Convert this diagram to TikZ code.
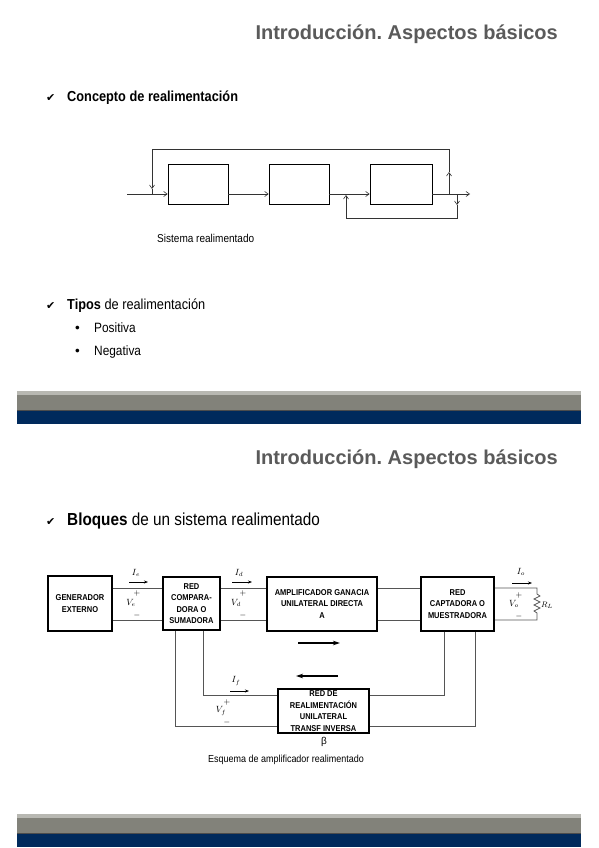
\documentclass[tikz,border=0pt]{standalone}
\usepackage{fontspec}
\setmainfont{Liberation Sans}
\newfontfamily\symfont{DejaVu Sans}
\usepackage{graphicx}
\usepackage{xcolor}
\usetikzlibrary{arrows.meta}
\frenchspacing

\definecolor{titlegray}{HTML}{5A5A5A}
\definecolor{bargray}{HTML}{82827A}
\definecolor{barlight}{HTML}{B8B8B2}
\definecolor{barnavy}{HTML}{002A5C}
\definecolor{wiregray}{HTML}{555555}

\newcommand{\nw}[1]{\scalebox{0.88}[1]{#1}}
\newcommand{\ttl}{\fontsize{20}{24}\selectfont\bfseries}

\tikzset{
  ttlnode/.style={anchor=base east, inner sep=0pt, font=\ttl, text=titlegray},
  chk/.style={anchor=base west, inner sep=0pt, font=\symfont\fontsize{11}{11}\selectfont},
  line14/.style={anchor=base west, inner sep=0pt, font=\fontsize{14.5}{17}\selectfont},
  blkA/.style={draw, line width=0.7pt, inner sep=0pt, minimum height=40pt},
  sigA/.style={line width=0.6pt, black!80, -{Straight Barb[length=3.5pt,width=5pt]}},
  wireA/.style={line width=0.6pt, black!80},
  blk/.style={draw, line width=1.5pt, inner sep=0pt, align=center,
    font=\fontsize{8.5}{11.5}\selectfont\bfseries},
  wire/.style={line width=0.7pt, wiregray},
  cur/.style={line width=0.6pt, -{Stealth[length=4pt,width=3pt]}},
  dirarrow/.style={line width=1.3pt, -{Stealth[length=7pt,width=4.5pt]}},
  lab/.style={inner sep=0pt, font=\fontsize{9}{9}\selectfont},
  pm/.style={inner sep=0pt, font=\fontsize{8}{8}\selectfont},
}

\begin{document}
\begin{tikzpicture}[x=1pt,y=-1pt]
  \useasboundingbox (0,0) rectangle (599,848);
  \fill[white] (0,0) rectangle (599,848);

  % ---- slide 1 ----
  \node[ttlnode] (ttlA) at (558,40) {Introducción. Aspectos básicos};
  \node[chk] (chkA) at (46,102) {✔};
  \node[line14] (concepto) at (67,102) {\nw{\bfseries Concepto de realimentación}};

  \node[blkA, minimum width=60pt] (b1) at (198,184) {};
  \node[blkA, minimum width=60pt] (b2) at (299,184) {};
  \node[blkA, minimum width=62pt] (b3) at (401,184) {};
  \coordinate (in) at (127,194);
  \coordinate (out) at (470,194);
  \coordinate (jo) at (449,194);
  \coordinate (ja) at (449,172);
  \coordinate (j2) at (449,149);
  \coordinate (j1) at (152,149);
  \coordinate (jf) at (152,189);
  \coordinate (jd) at (457,194);
  \coordinate (jb) at (457,205);
  \coordinate (jc) at (457,218);
  \coordinate (je) at (346,218);
  \coordinate (jm) at (346,195);
  \draw[sigA] (in) -- (b1.west |- in);
  \draw[sigA] (b1.east |- in) -- (b2.west |- in);
  \draw[sigA] (b2.east |- in) -- (b3.west |- in);
  \draw[sigA] (b3.east |- in) -- (out);
  \draw[sigA] (jo) -- (ja);
  \draw[sigA] (ja) -- (j2) -- (j1) -- (jf);
  \draw[wireA] (jf) -- (in -| jf);
  \draw[sigA] (jd) -- (jb);
  \draw[sigA] (jb) -- (jc) -- (je) -- (jm);
  \node[anchor=base west, inner sep=0pt, font=\fontsize{11.4}{13}\selectfont] (sist) at (157,242) {\nw{Sistema realimentado}};

  \node[chk] (chkB) at (46,309) {✔};
  \node[line14] (tipos) at (67,309) {\nw{\textbf{Tipos} de realimentación}};
  \node[anchor=base west, inner sep=0pt, font=\fontsize{13.5}{16}\selectfont] (bu1) at (75,332) {•};
  \node[anchor=base west, inner sep=0pt, font=\fontsize{13.5}{16}\selectfont] (pos) at (94,332) {\nw{Positiva}};
  \node[anchor=base west, inner sep=0pt, font=\fontsize{13.5}{16}\selectfont] (bu2) at (75,355) {•};
  \node[anchor=base west, inner sep=0pt, font=\fontsize{13.5}{16}\selectfont] (neg) at (94,355) {\nw{Negativa}};

  \fill[bargray] (17,391) rectangle (581,410);
  \fill[barlight] (17,391) rectangle (581,395);
  \fill[black!70] (17,410) rectangle (581,411);
  \fill[barnavy] (17,411) rectangle (581,424);

  % ---- slide 2 ----
  \node[ttlnode] (ttlB) at (558,464) {Introducción. Aspectos básicos};
  \node[chk] (chkC) at (46,525) {✔};
  \node[line14, font=\fontsize{17.4}{20}\selectfont] (bloques) at (67,525) {\nw{\textbf{Bloques} de un sistema realimentado}};

  \node[blk, minimum width=64pt, minimum height=55pt] (gen) at (80,603.5)
    {\nw{GENERADOR}\\\nw{EXTERNO}};
  \node[blk, minimum width=57pt, minimum height=53pt] (comp) at (191.5,603.5)
    {\nw{RED}\\\nw{COMPARA-}\\\nw{DORA O}\\\nw{SUMADORA}};
  \node[blk, minimum width=110pt, minimum height=54pt] (amp) at (322,604)
    {\nw{AMPLIFICADOR GANACIA}\\\nw{UNILATERAL DIRECTA}\\\nw{A}};
  \node[blk, minimum width=73pt, minimum height=54pt] (capt) at (457.5,604)
    {\nw{RED}\\\nw{CAPTADORA O}\\\nw{MUESTRADORA}};
  \node[blk, minimum width=91pt, minimum height=44pt] (fb) at (323.5,711)
    {\nw{RED DE}\\\nw{REALIMENTACIÓN}\\\nw{UNILATERAL}\\\nw{TRANSF INVERSA}};

  \coordinate (hi) at (0,588);
  \coordinate (lo) at (0,620);
  \draw[wire] (gen.east |- hi) -- (comp.west |- hi);
  \draw[wire] (gen.east |- lo) -- (comp.west |- lo);
  \draw[wire] (comp.east |- hi) -- (amp.west |- hi);
  \draw[wire] (comp.east |- lo) -- (amp.west |- lo);
  \draw[wire] (amp.east |- hi) -- (capt.west |- hi);
  \draw[wire] (amp.east |- lo) -- (capt.west |- lo);

  % load with R_L
  \coordinate (rt) at (537,588);
  \coordinate (rb) at (537,620);
  \draw[wire] (capt.east |- hi) -- (rt) -- (537,594)
    -- (540,596) -- (534,599) -- (540,602) -- (534,605) -- (540,608) -- (534,611) -- (537,613)
    -- (rb) -- (capt.east |- lo);
  \node[lab, font=\fontsize{8}{8}\selectfont] (RL) at (547,605) {$R_L$};

  % feedback loop
  \coordinate (fhi) at (0,695);
  \coordinate (flo) at (0,726);
  \draw[wire] (comp.south -| 203,0) -- (203,695) -- (fb.west |- fhi);
  \draw[wire] (comp.south -| 175,0) -- (175,726) -- (fb.west |- flo);
  \draw[wire] (capt.south -| 444,0) -- (444,695) -- (fb.east |- fhi);
  \draw[wire] (capt.south -| 475,0) -- (475,726) -- (fb.east |- flo);

  % signal direction
  \coordinate (da) at (298,643);
  \coordinate (db) at (340,643);
  \coordinate (dc) at (338,676);
  \coordinate (dd) at (296,676);
  \draw[dirarrow] (da) -- (db);
  \draw[dirarrow] (dc) -- (dd);

  % port labels
  \node[lab] (Ie) at (136,573) {$I_e$};
  \draw[cur] (129,582) -- (148,582);
  \node[pm] (pe) at (137,593) {$+$};
  \node[lab] (Ve) at (131,603) {$V_e$};
  \node[pm] (me) at (137,615) {$-$};

  \node[lab] (Id) at (239,573) {$I_d$};
  \draw[cur] (232,582) -- (252,582);
  \node[pm] (pd) at (243,593) {$+$};
  \node[lab] (Vd) at (236,603) {$V_d$};
  \node[pm] (md) at (243,615) {$-$};

  \node[lab] (Io) at (521,572) {$I_o$};
  \draw[cur] (512,583) -- (532,583);
  \node[pm] (po) at (519,595) {$+$};
  \node[lab] (Vo) at (514,604) {$V_o$};
  \node[pm] (mo) at (519,616) {$-$};

  \node[lab] (If) at (236,681) {$I_f$};
  \draw[cur] (230,691) -- (249,691);
  \node[pm] (pf) at (227,702) {$+$};
  \node[lab] (Vf) at (221,711) {$V_f$};
  \node[pm] (mf) at (227,722) {$-$};

  \node[inner sep=0pt, font=\fontsize{10}{10}\selectfont] (beta) at (324,742) {β};
  \node[anchor=base west, inner sep=0pt, font=\fontsize{10.2}{12}\selectfont] (esq) at (208,762) {\nw{Esquema de amplificador realimentado}};

  \fill[bargray] (17,814) rectangle (581,833);
  \fill[barlight] (17,814) rectangle (581,818);
  \fill[black!70] (17,833) rectangle (581,834);
  \fill[barnavy] (17,834) rectangle (581,847);
\end{tikzpicture}
\end{document}
